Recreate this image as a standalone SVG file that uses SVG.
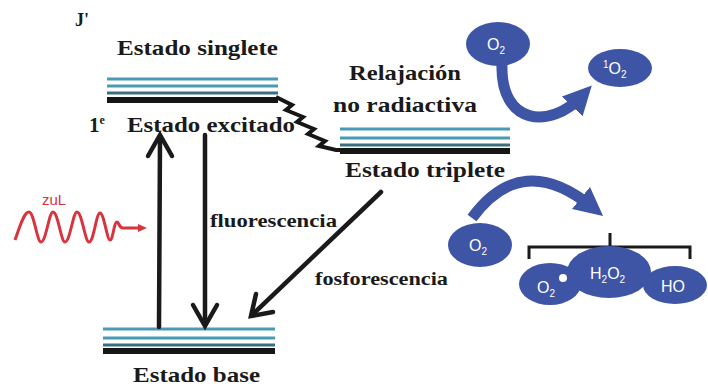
<svg xmlns="http://www.w3.org/2000/svg" width="708" height="386" viewBox="0 0 708 386">
<defs>
<style>
.t{font-family:"Liberation Serif","DejaVu Serif",serif;font-weight:bold;fill:#1a1a1a;}
.w{font-family:"Liberation Sans","Open Sans",sans-serif;fill:#ffffff;}
.teal{stroke:#4a9ab5;stroke-width:3;}
.dteal{stroke:#3b6f7c;stroke-width:3;}
.blk{stroke:#161616;stroke-width:6;}
.ar{fill:none;stroke:#1a1a1a;stroke-width:4.5;stroke-linecap:round;stroke-linejoin:miter;}
.bl{fill:#3e55a6;}
.bs{fill:none;stroke:#3e55a6;stroke-width:11;}
</style>
<marker id="bh" viewBox="0 0 10 10" refX="5" refY="5" markerWidth="2.6" markerHeight="2.6" orient="auto" markerUnits="strokeWidth">
<path d="M0,0 L10,5 L0,10 Z" fill="#3e55a6"/>
</marker>
</defs>
<rect width="708" height="386" fill="#ffffff"/>
<text class="t" x="75" y="26" font-size="18">J'</text>

<g id="singlete">
<text class="t" x="117" y="55" font-size="21" textLength="161" lengthAdjust="spacingAndGlyphs">Estado singlete</text>
<line class="teal" x1="107" y1="79" x2="278" y2="79"/>
<line class="teal" x1="107" y1="86" x2="278" y2="86"/>
<line class="dteal" x1="107" y1="93" x2="278" y2="93"/>
<line class="blk" x1="107" y1="100" x2="278" y2="100"/>
<text class="t" x="89" y="132" font-size="21">1<tspan font-size="12" dy="-8">e</tspan></text>
<text class="t" x="127" y="132" font-size="21" textLength="168" lengthAdjust="spacingAndGlyphs">Estado excitado</text>
</g>

<g id="relajacion">
<text class="t" x="405" y="80" font-size="21" text-anchor="middle" textLength="112" lengthAdjust="spacingAndGlyphs">Relajación</text>
<text class="t" x="405" y="112" font-size="21" text-anchor="middle" textLength="144" lengthAdjust="spacingAndGlyphs">no radiactiva</text>
<polyline fill="none" stroke="#161616" stroke-width="4" stroke-linejoin="miter" points="276,97 292,105 286,110 303,117 297,122 314,129 308,134 325,141 319,146 336,150 342,150"/>
</g>

<g id="triplete">
<line class="teal" x1="340" y1="129" x2="510" y2="129"/>
<line class="teal" x1="340" y1="138" x2="510" y2="138"/>
<line class="dteal" x1="340" y1="145" x2="510" y2="145"/>
<line class="blk" x1="340" y1="151" x2="510" y2="151"/>
<text class="t" x="345" y="177" font-size="21" textLength="160" lengthAdjust="spacingAndGlyphs">Estado triplete</text>
</g>

<g id="base">
<line class="teal" x1="103" y1="329" x2="275" y2="329"/>
<line class="teal" x1="103" y1="338" x2="275" y2="338"/>
<line class="dteal" x1="103" y1="345" x2="275" y2="345"/>
<line class="blk" x1="103" y1="351" x2="275" y2="351"/>
<text class="t" x="133" y="382" font-size="21" textLength="127" lengthAdjust="spacingAndGlyphs">Estado base</text>
</g>

<g id="luz">
<text x="42" y="205" font-family="'Liberation Sans','Open Sans',sans-serif" font-size="15" fill="#d8343e">zuL</text>
<path d="M15,240 C20,226 24,212 29,212 C34,212 37,242 41,242 C46,242 49,212 53,212 C58,212 61,242 65,242 C70,242 73,212 77,212 C82,212 85,242 89,242 C94,242 96,213 100,213 C104,213 107,240 110,240 C113,240 114,222 117,222 C119,222 119,228 123,228 L140,228" fill="none" stroke="#d8343e" stroke-width="3"/>
<polygon points="138,224 147,228 138,232" fill="#d8343e"/>
</g>

<g id="connectors">
<line class="ar" x1="159" y1="327" x2="160" y2="137"/>
<polyline class="ar" points="148,156 160,135 172,156"/>
<line class="ar" x1="205" y1="135" x2="205" y2="324"/>
<polyline class="ar" points="193,305 205,326 217,305"/>
<line class="ar" x1="381" y1="192" x2="253" y2="314"/>
<polyline class="ar" points="256,294 251,316 273,312"/>
<text class="t" x="210" y="227" font-size="18" textLength="127" lengthAdjust="spacingAndGlyphs">fluorescencia</text>
<text class="t" x="315" y="285" font-size="18" textLength="133" lengthAdjust="spacingAndGlyphs">fosforescencia</text>
</g>

<g id="oxigeno-singlete">
<ellipse class="bl" cx="498" cy="44" rx="32" ry="22"/>
<text class="w" x="487" y="50" font-size="16">O<tspan font-size="10" dy="4">2</tspan></text>
<path class="bs" d="M502,64 C500,125 550,130 582,96" marker-end="url(#bh)"/>
<ellipse class="bl" cx="620" cy="68" rx="32" ry="19"/>
<text class="w" x="603" y="74" font-size="16"><tspan font-size="10" dy="-6">1</tspan><tspan dy="6">O</tspan><tspan font-size="10" dy="4">2</tspan></text>
</g>

<g id="ros">
<ellipse class="bl" cx="480" cy="245" rx="32" ry="22"/>
<text class="w" x="469" y="251" font-size="16">O<tspan font-size="10" dy="4">2</tspan></text>
<path class="bs" d="M472,218 Q522,150 592,207" marker-end="url(#bh)"/>
<path d="M529,259 V247 H690 V259 M610,247 V233" fill="none" stroke="#1a1a1a" stroke-width="3"/>
<ellipse class="bl" cx="550" cy="284" rx="31" ry="21"/>
<ellipse class="bl" cx="675" cy="285" rx="32" ry="19"/>
<ellipse class="bl" cx="609" cy="272" rx="42" ry="26"/>
<text class="w" x="537" y="293" font-size="16">O<tspan font-size="10" dy="4">2</tspan></text>
<circle cx="563" cy="278" r="4" fill="#ffffff"/>
<text class="w" x="590" y="279" font-size="16">H<tspan font-size="10" dy="4">2</tspan><tspan dy="-4">O</tspan><tspan font-size="10" dy="4">2</tspan></text>
<text class="w" x="661" y="292" font-size="16">HO</text>
</g>
</svg>
